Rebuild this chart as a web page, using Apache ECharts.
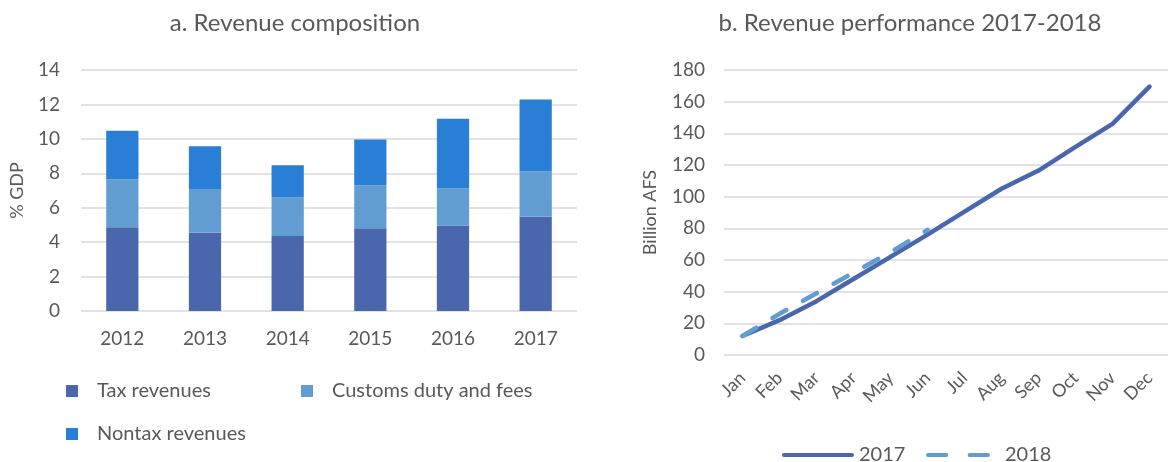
<!DOCTYPE html>
<html>
<head>
<meta charset="utf-8">
<script src="https://cdn.jsdelivr.net/npm/echarts@6/dist/echarts.min.js"></script>
<style>
  html, body { margin: 0; padding: 0; background: #fff; }
  #main { width: 1168px; height: 462px; }
</style>
</head>
<body>
<div id="main"></div>
<script>
// panel a: revenue composition (% GDP)
const years = ["2012", "2013", "2014", "2015", "2016", "2017"];
const taxRevenues = [4.87, 4.56, 4.35, 4.81, 4.95, 5.48];
const customsDuty = [2.79, 2.52, 2.26, 2.50, 2.18, 2.63];
const nontaxRevenues = [2.81, 2.49, 1.85, 2.65, 4.04, 4.17];

// panel b: cumulative revenue (billion AFS)
const months = ["Jan", "Feb", "Mar", "Apr", "May", "Jun", "Jul", "Aug", "Sep", "Oct", "Nov", "Dec"];
const rev2017 = [12, 22, 34, 48, 62, 76, 90.5, 105, 116.5, 131.5, 146, 169.5];
const rev2018 = [12, 26, 39, 52, 65, 79];

const font = "Lato";
const textColor = "#595959";
const gridColor = "#d9d9d9";

let chart = echarts.init(document.getElementById("main"));

// legend icons for the line series (solid bar / two dashes)
const solidIcon = "path://M2,0H70A2,2 0 0 1 70,4H2A2,2 0 0 1 2,0Z";
const dashIcon = "path://M2,0H20A2,2 0 0 1 20,4H2A2,2 0 0 1 2,0Z M43,0H61A2,2 0 0 1 61,4H43A2,2 0 0 1 43,0Z";

let option = {
  backgroundColor: "#fff",
  textStyle: { fontFamily: font, color: textColor },
  title: [
    {
      text: "a. Revenue composition",
      left: 290, top: 6, textAlign: "center",
      textStyle: { fontFamily: font, fontSize: 24, fontWeight: "normal", color: textColor }
    },
    {
      text: "b. Revenue performance 2017-2018",
      left: 905, top: 6, textAlign: "center",
      textStyle: { fontFamily: font, fontSize: 24, fontWeight: "normal", color: textColor }
    }
  ],
  legend: [
    {
      data: ["Tax revenues"], left: 61, top: 376,
      itemWidth: 12, itemHeight: 12, icon: "rect",
      textStyle: { fontSize: 20, color: textColor, padding: [0, 0, 0, 14] }
    },
    {
      data: ["Customs duty and fees"], left: 296, top: 376,
      itemWidth: 12, itemHeight: 12, icon: "rect",
      textStyle: { fontSize: 20, color: textColor, padding: [0, 0, 0, 14] }
    },
    {
      data: ["Nontax revenues"], left: 61, top: 419,
      itemWidth: 12, itemHeight: 12, icon: "rect",
      textStyle: { fontSize: 20, color: textColor, padding: [0, 0, 0, 14] }
    },
    {
      data: [{ name: "2017", icon: solidIcon }], left: 777, top: 440,
      itemWidth: 72, itemHeight: 5,
      textStyle: { fontSize: 20, color: textColor }
    },
    {
      data: [{ name: "2018", icon: dashIcon }], left: 921, top: 440,
      itemWidth: 64, itemHeight: 5,
      textStyle: { fontSize: 20, color: textColor, padding: [0, 0, 0, 10] }
    }
  ],
  grid: [
    { left: 81, right: 591, top: 70, height: 241 },
    { left: 724, right: -8, top: 70, height: 285 }
  ],
  xAxis: [
    {
      gridIndex: 0, type: "category", data: years,
      axisLine: { show: false }, axisTick: { show: false },
      axisLabel: { fontSize: 19, color: textColor, margin: 18 }
    },
    {
      gridIndex: 1, type: "category", data: months,
      axisLine: { show: false }, axisTick: { show: false },
      axisLabel: { fontSize: 18, color: textColor, rotate: 45, margin: 20 }
    }
  ],
  yAxis: [
    {
      gridIndex: 0, type: "value", min: 0, max: 14, interval: 2,
      name: "% GDP", nameLocation: "middle", nameGap: 55,
      nameTextStyle: { fontSize: 18, color: textColor },
      axisLabel: { fontSize: 19, color: textColor, margin: 21 },
      splitLine: { lineStyle: { color: gridColor, width: 1.5 } }
    },
    {
      gridIndex: 1, type: "value", min: 0, max: 180, interval: 20,
      name: "Billion AFS", nameLocation: "middle", nameGap: 65,
      nameTextStyle: { fontSize: 18, color: textColor },
      axisLabel: { fontSize: 19, color: textColor, margin: 19 },
      splitLine: { lineStyle: { color: gridColor, width: 1.5 } }
    }
  ],
  series: [
    {
      name: "Tax revenues", type: "bar", stack: "rev", xAxisIndex: 0, yAxisIndex: 0,
      barWidth: "39%", data: taxRevenues,
      itemStyle: { color: "#4a66ac" }
    },
    {
      name: "Customs duty and fees", type: "bar", stack: "rev", xAxisIndex: 0, yAxisIndex: 0,
      barWidth: "39%", data: customsDuty,
      itemStyle: { color: "#629dd1" }
    },
    {
      name: "Nontax revenues", type: "bar", stack: "rev", xAxisIndex: 0, yAxisIndex: 0,
      barWidth: "39%", data: nontaxRevenues,
      itemStyle: { color: "#297fd5" }
    },
    {
      name: "2017", type: "line", xAxisIndex: 1, yAxisIndex: 1,
      data: rev2017, symbol: "none",
      itemStyle: { color: "#4a66ac" },
      lineStyle: { color: "#4a66ac", width: 4.5, cap: "round" }
    },
    {
      name: "2018", type: "line", xAxisIndex: 1, yAxisIndex: 1,
      data: rev2018, symbol: "none", z: 3,
      itemStyle: { color: "#629dd1" },
      lineStyle: { color: "#629dd1", width: 4.5, type: [16, 19], cap: "round" }
    }
  ]
};

chart.setOption(option);
</script>
</body>
</html>
